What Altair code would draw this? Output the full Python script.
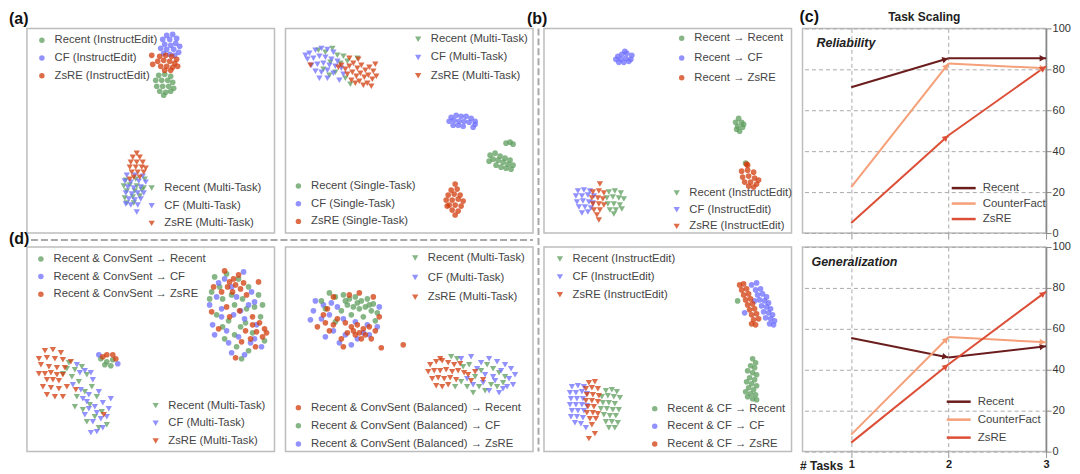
import math
import altair as alt
import pandas as pd

FONT = "Liberation Sans"
GREEN, BLUE, RED = "#5e9e5e", "#6e6eff", "#d23c0c"
LINE_COLORS = ["#6b1d1d", "#f5a078", "#dc4e36"]
PW, PH = 248, 205  # scatter panel size
CW = 244           # task-scaling panel width

# ---------------- (a) left panel: InstructEdit (circles) / Multi-Task (triangles)
A1_IE_RECENT = [(132,47),(138,46),(144,48),(129,52),(135,52),(141,52),(146,54),(130,58),(136,58),
                (142,58),(147,60),(133,63),(139,64),(144,63),(137,67)]
A1_IE_CF = [(140,7),(146,6),(150,10),(136,11),(143,11),(149,15),(153,18),(138,16),(144,17),(134,20),
            (140,21),(147,21),(152,24),(137,25),(143,26),(148,27)]
A1_IE_ZSRE = [(133,28),(139,27),(145,28),(150,31),(131,33),(137,32),(143,33),(148,35),(134,38),(140,38),
              (146,39),(151,38),(138,42),(144,42),(125,27),(126,36)]
A1_MT_RECENT = [(99,152),(109,151),(118,151),(97,158),(103,157),(110,158),(117,160),(100,163),(108,163),
                (115,162),(98,170),(106,169),(113,168),(100,175),(107,175)]
A1_MT_CF = [(100,147),(108,147),(116,148),(98,153),(104,154),(112,153),(119,154),(101,159),(107,160),
            (114,159),(99,165),(105,166),(111,165),(117,165),(102,171),(108,172),(114,171),(104,177),
            (111,177),(110,184),(99,176)]
A1_MT_ZSRE = [(110,125),(106,129),(113,129),(104,134),(110,134),(116,134),(103,139),(109,139),(115,139),
              (119,140),(105,144),(111,144),(117,144),(107,149),(113,149),(103,151)]

# ---------------- (a) right panel: Multi-Task (triangles) / Single-Task (circles)
A2_ST_RECENT = [(221,115),(225,114),(228,116),(205,127),(210,125),(215,128),(220,130),(225,132),(208,131),
                (213,132),(218,134),(223,136),(228,137),(211,137),(216,139),(221,140),(226,141),(204,133)]
A2_ST_CF = [(166,89),(171,87),(176,88),(181,88),(186,90),(190,93),(164,93),(169,92),(174,93),(179,93),
            (184,94),(168,97),(173,97),(178,98),(188,99),(190,96)]
A2_ST_ZSRE = [(170,156),(166,162),(172,161),(163,167),(169,166),(175,167),(161,172),(167,172),(173,171),
              (178,173),(164,177),(170,177),(176,178),(167,182),(173,183),(170,187),(162,178)]
A2_MT_RECENT = [(33,22),(40,24),(47,20),(52,27),(58,28),(45,34),(38,41),(55,35),(62,33),(50,44),(60,50),
                (44,47),(65,56),(72,30)]
A2_MT_CF = [(24,25),(30,22),(36,20),(42,21),(48,24),(22,31),(28,30),(34,28),(40,29),(46,31),(52,33),(26,37),
            (32,36),(38,35),(44,37),(50,38),(56,40),(30,43),(36,44),(42,42),(48,45),(34,50),(42,50),(20,27),
            (58,46),(54,52)]
A2_MT_ZSRE = [(25,37),(53,39),(56,37),(60,41),(64,38),(68,35),(72,40),(76,37),(80,42),(84,39),(88,43),(62,46),
              (67,44),(71,48),(75,45),(79,49),(83,47),(87,51),(91,48),(66,52),(70,55),(74,53),(78,57),(82,55),
              (86,58),(64,30),(90,36),(73,31)]

# ---------------- (b) top panel: Recent -> X (circles) / InstructEdit (triangles)
B1_RECENT = [(195,90),(192,94),(198,94),(194,98),(199,99),(196,103),(193,101),(200,96),(202,135)]
B1_CF = [(74,28),(78,26),(83,25),(88,27),(72,31),(77,31),(82,30),(87,31),(75,34),(80,34),(85,33),(81,23)]
B1_ZSRE = [(204,137),(203,136),(198,143),(204,142),(210,144),(199,149),(205,148),(211,150),(215,152),
           (201,154),(207,154),(213,156),(205,158),(210,159)]
B1_IE_RECENT = [(65,164),(71,163),(77,165),(63,170),(69,169),(75,170),(80,171),(64,176),(70,176),(76,177),
                (66,182),(72,182),(78,181),(70,186)]
B1_IE_CF = [(34,163),(40,162),(46,163),(32,168),(38,168),(44,167),(50,168),(33,174),(39,173),(45,174),
            (49,175),(35,179),(41,179),(47,180),(38,185),(44,184)]
B1_IE_ZSRE = [(56,156),(49,164),(55,163),(60,165),(48,170),(54,170),(59,171),(49,176),(55,176),(60,177),
              (50,182),(56,182),(53,187),(55,192)]

# ---------------- (b) bottom panel: InstructEdit (triangles) / Recent & CF -> X (circles)
B2_RECENT = [(194,54),(209,112),(212,116),(207,119),(211,121),(204,124),(209,126),(213,128),(206,131),
             (211,133),(203,135),(208,137),(213,139),(205,141),(210,143),(202,145),(207,147),(212,148),
             (204,150),(209,152),(213,153)]
B2_CF = [(208,38),(213,36),(212,43),(217,42),(214,48),(219,47),(223,50),(216,53),(221,54),(225,56),(218,59),
         (223,60),(227,62),(220,65),(225,66),(229,68),(222,71),(227,72),(231,74),(226,77),(230,78),(211,54),
         (201,66)]
B2_ZSRE = [(196,38),(200,37),(198,43),(203,42),(200,48),(205,47),(202,53),(207,52),(204,58),(209,57),
           (206,63),(211,62),(208,68),(213,67),(210,73),(215,72),(212,78),(208,77)]
B2_IE_RECENT = [(62,144),(68,143),(73,145),(58,150),(64,149),(70,150),(76,151),(59,156),(65,156),(71,157),
                (57,162),(63,162),(69,163),(75,163),(60,168),(66,169),(72,169),(62,175),(68,175),(74,176),
                (65,181),(71,181)]
B2_IE_CF = [(28,140),(34,139),(40,140),(26,146),(32,146),(38,145),(43,147),(27,152),(33,152),(39,152),
            (26,158),(32,158),(38,158),(43,159),(28,164),(34,164),(40,164),(27,170),(33,170),(39,171),
            (31,176),(37,177),(42,181)]
B2_IE_ZSRE = [(45,136),(51,135),(42,142),(48,141),(54,142),(43,148),(49,148),(55,149),(42,154),(48,154),
              (54,155),(44,160),(50,160),(43,166),(49,166),(54,167),(46,172),(52,172),(48,178),(45,192),
              (51,187)]

# ---------------- (d) left panel: Recent & ConvSent -> X (circles) / Multi-Task (triangles)
D1_RECENT = [(188,30),(200,27),(212,32),(222,40),(232,48),(185,45),(196,52),(208,58),(220,62),(234,70),
             (190,68),(202,74),(214,80),(226,86),(238,94),(198,92),(210,100),(222,104),(193,40),(205,48),
             (216,52),(228,60),(196,80),(208,88),(219,76),(183,52),(236,58),(215,112),
             (74,112),(80,115),(86,113),(78,118),(84,119)]
D1_CF = [(192,36),(205,40),(217,25),(228,55),(183,58),(195,62),(207,68),(218,72),(230,78),(186,78),(200,84),
         (212,90),(224,96),(235,100),(205,106),(218,108),(190,50),(225,45),(198,32),(210,50),(222,58),
         (188,88),(228,92),(214,64),(202,96),(195,70),(91,117),(72,108)]
D1_ZSRE = [(198,24),(203,35),(209,38),(214,42),(206,45),(220,48),(187,40),(195,45),(232,35),(200,60),
           (213,64),(226,70),(233,76),(238,82),(230,85),(236,90),(224,92),(215,95),(192,82),(203,70),
           (229,100),(209,111),(212,28),(185,65),(201,40),(207,32),(217,36),(226,78),(240,86),(219,84),
           (80,108),(86,108),(89,112),(76,110)]
D1_MT_RECENT = [(42,116),(48,123),(55,120),(45,130),(52,135),(60,128),(65,140),(58,145),(50,150),(70,150),
                (63,158),(56,163),(75,165),(68,170),(60,175),(80,178),(72,181),(40,122),(36,127),(48,160)]
D1_MT_CF = [(50,118),(58,124),(46,138),(54,143),(62,148),(66,133),(72,145),(60,155),(68,160),(76,156),
            (82,162),(58,168),(66,175),(74,172),(80,170),(70,185),(64,186),(84,152),(56,152),(62,162),
            (70,166),(76,181),(53,126),(64,126)]
D1_MT_ZSRE = [(18,104),(26,103),(34,106),(12,112),(20,111),(28,112),(36,113),(44,115),(14,118),(22,120),
              (30,121),(38,121),(18,127),(24,126),(30,128),(36,128),(12,127),(20,133),(26,133),(32,134),
              (16,140),(24,141),(32,142),(40,140),(20,148),(28,150),(36,150),(49,143),(77,168)]

# ---------------- (d) right panel: Multi-Task (triangles) / Recent & ConvSent (Balanced) -> X (circles)
D2_RECENT = [(48,50),(42,62),(38,68),(52,72),(60,76),(66,80),(72,78),(78,82),(84,80),(90,84),(62,86),(70,88),
             (76,92),(56,92),(48,78),(44,84),(32,80),(64,48),(74,46),(88,50),(58,100),(96,101),(118,98),
             (40,76),(86,92),(94,70),(68,84),(74,86),(80,88)]
D2_CF = [(44,46),(50,50),(58,48),(64,52),(70,50),(76,54),(82,52),(88,57),(62,58),(68,60),(74,62),(80,60),
         (86,64),(92,66),(56,64),(66,68),(78,70),(40,62),(50,75),(90,74),(36,54),(72,56),(84,58),(60,54)]
D2_ZSRE = [(30,54),(38,58),(46,56),(52,60),(44,68),(58,72),(70,75),(82,78),(92,80),(36,72),(48,84),(60,88),
           (72,92),(84,88),(25,73),(40,90),(54,96),(66,98),(94,60),(28,64),(78,86)]
D2_MT_RECENT = [(166,110),(172,112),(178,120),(184,118),(190,130),(196,124),(202,118),(208,122),(214,126),
                (220,130),(176,135),(182,140),(194,140),(206,138),(200,144),(188,146),(212,140),(218,136),
                (170,140)]
D2_MT_CF = [(176,112),(186,110),(196,116),(204,112),(212,115),(220,118),(226,122),(192,122),(200,128),
            (208,130),(216,124),(224,132),(230,128),(188,138),(198,136),(210,134),(218,142),(228,138),
            (182,132),(204,144),(214,146),(222,140)]
D2_MT_ZSRE = [(145,118),(151,115),(157,114),(163,116),(169,118),(175,117),(143,125),(149,124),(155,124),
              (161,123),(167,125),(173,124),(179,126),(147,132),(153,131),(159,132),(165,131),(171,133),
              (151,139),(157,140),(163,138),(183,128),(190,125),(186,134),(155,112),(198,133)]

# ---------------- (c) task scaling
TASKS = [1, 2, 3]
SERIES = ["Recent", "CounterFact", "ZsRE"]
REL_RECENT = [71.2, 85.4, 85.4]
REL_CF = [22.4, 82.9, 80.5]
REL_ZSRE = [4.9, 47.8, 81.5]
GEN_RECENT = [55.5, 46.0, 51.5]
GEN_CF = [8.3, 56.0, 53.4]
GEN_ZSRE = [4.4, 42.7, 78.2]


def pts_df(groups):
    rows = []
    for label, pts in groups:
        for x, y in pts:
            rows.append({"x": x, "y": y, "label": label})
    return pd.DataFrame(rows)


def legend(lx, ly, rp, sym, size):
    return alt.Legend(title=None, orient="none", legendX=lx, legendY=ly, rowPadding=rp,
                      symbolType=sym, symbolSize=size, symbolOpacity=0.75,
                      labelFontSize=11.3, labelColor="#444", labelFont=FONT, labelOffset=7,
                      labelLimit=300, padding=0)


def scatter(groups, domain, colors, shape, size, leg, w=PW, h=PH):
    return alt.Chart(pts_df(groups)).mark_point(
        shape=shape, filled=True, size=size, opacity=0.75, strokeWidth=0
    ).encode(
        x=alt.X("x:Q", scale=alt.Scale(domain=[0, w], nice=False, zero=False), axis=None),
        y=alt.Y("y:Q", scale=alt.Scale(domain=[0, h], nice=False, zero=False, reverse=True), axis=None),
        color=alt.Color("label:N", scale=alt.Scale(domain=domain, range=colors), legend=leg),
    )


def circles(groups, domain, colors, lx, ly, rp):
    return scatter(groups, domain, colors, "circle", 32, legend(lx, ly, rp, "circle", 30))


def tris(groups, domain, colors, lx, ly, rp):
    return scatter(groups, domain, colors, "triangle-down", 40, legend(lx, ly, rp, "triangle-down", 40))


def label(text, x, y, size=16, weight="bold", style="normal", align="left", baseline="top", color="#111"):
    return alt.Chart(pd.DataFrame({"t": [text]})).mark_text(
        fontSize=size, fontWeight=weight, fontStyle=style, align=align, baseline=baseline,
        color=color, font=FONT
    ).encode(x=alt.value(x), y=alt.value(y), text="t:N")


def dashed_v(x, y0, y1):
    return alt.Chart(pd.DataFrame({"k": [0]})).mark_rule(
        strokeDash=[7, 3], color="#a9a9a9", strokeWidth=2
    ).encode(x=alt.value(x), y=alt.value(y0), y2=alt.value(y1))


def dashed_h(y, x0, x1):
    return alt.Chart(pd.DataFrame({"k": [0]})).mark_rule(
        strokeDash=[7, 3], color="#a9a9a9", strokeWidth=2
    ).encode(y=alt.value(y), x=alt.value(x0), x2=alt.value(x1))


def panel(*layers, w=PW, h=PH):
    return alt.layer(*layers).resolve_scale(color="independent").properties(width=w, height=h)


IE = ["Recent (InstructEdit)", "CF (InstructEdit)", "ZsRE (InstructEdit)"]
MT = ["Recent (Multi-Task)", "CF (Multi-Task)", "ZsRE (Multi-Task)"]
ST = ["Recent (Single-Task)", "CF (Single-Task)", "ZsRE (Single-Task)"]
RX = ["Recent \u2192 Recent", "Recent \u2192 CF", "Recent \u2192 ZsRE"]
RCF = ["Recent & CF \u2192 Recent", "Recent & CF \u2192 CF", "Recent & CF \u2192 ZsRE"]
RCS = ["Recent & ConvSent \u2192 Recent", "Recent & ConvSent \u2192 CF", "Recent & ConvSent \u2192 ZsRE"]
RCSB = ["Recent & ConvSent (Balanced) \u2192 Recent", "Recent & ConvSent (Balanced) \u2192 CF",
        "Recent & ConvSent (Balanced) \u2192 ZsRE"]
GBR = [GREEN, BLUE, RED]
TOP = -17
SPACE_COL, SPACE_ROW = 11, 14

a1 = panel(
    circles(list(zip(IE, [A1_IE_RECENT, A1_IE_CF, A1_IE_ZSRE])), IE, GBR, 9.3, 6.3, 5.7),
    tris(list(zip(MT, [A1_MT_RECENT, A1_MT_CF, A1_MT_ZSRE])), MT, GBR, 119.3, 154.3, 5.7),
    label("(a)", -18, TOP),
)
a2 = panel(
    circles(list(zip(ST, [A2_ST_RECENT, A2_ST_CF, A2_ST_ZSRE])), ST, GBR, 7.3, 152.3, 5.7),
    tris(list(zip(MT, [A2_MT_RECENT, A2_MT_CF, A2_MT_ZSRE])), MT, GBR, 127.3, 5.3, 6.2),
    dashed_v(253.5, 0, 424),
    dashed_h(212, -255, 248),
)
b1 = panel(
    circles(list(zip(RX, [B1_RECENT, B1_CF, B1_ZSRE])), RX, GBR, 132.3, 4.3, 7.7),
    tris(list(zip(IE, [B1_IE_RECENT, B1_IE_CF, B1_IE_ZSRE])), IE, GBR, 127.3, 159.3, 4.7),
    label("(b)", -17, TOP),
)
d1 = panel(
    circles(list(zip(RCS, [D1_RECENT, D1_CF, D1_ZSRE])), RCS, GBR, 8.3, 6.3, 5.7),
    tris(list(zip(MT, [D1_MT_RECENT, D1_MT_CF, D1_MT_ZSRE])), MT, GBR, 123.3, 153.3, 5.7),
    label("(d)", -18, -16),
)
d2 = panel(
    circles([(RCSB[2], D2_ZSRE), (RCSB[1], D2_CF), (RCSB[0], D2_RECENT)], RCSB, [RED, GREEN, BLUE],
            7.3, 155.3, 6.2),
    tris(list(zip(MT, [D2_MT_RECENT, D2_MT_CF, D2_MT_ZSRE])), MT, GBR, 124.3, 5.3, 7.7),
)
b2 = panel(
    circles(list(zip(RCF, [B2_RECENT, B2_CF, B2_ZSRE])), RCF, GBR, 105.3, 156.3, 5.7),
    tris(list(zip(IE, [B2_IE_RECENT, B2_IE_CF, B2_IE_ZSRE])), IE, GBR, 10.3, 6.3, 6.0),
)


def line_panel(values, title, tx, lx, ly, rp, bottom):
    px = CW / 2.5
    py = PH / 100.0
    seg_rows, arr_rows = [], []
    for name, vals in zip(SERIES, values):
        for i in range(len(TASKS) - 1):
            x1, x2, y1, y2 = TASKS[i], TASKS[i + 1], vals[i], vals[i + 1]
            seg_rows.append({"series": name, "x": x1, "x2": x2, "y": y1, "y2": y2})
            th = math.atan2(-(y2 - y1) * py, (x2 - x1) * px)
            arr_rows.append({"series": name,
                             "x": x2 - 3.5 * math.cos(th) / px,
                             "y": y2 + 3.5 * math.sin(th) / py,
                             "angle": math.degrees(th) % 360})
    cscale = alt.Scale(domain=SERIES, range=LINE_COLORS)
    if bottom:
        xaxis = alt.Axis(values=TASKS, grid=True, gridDash=[4, 3], gridColor="#aaa", domain=False,
                         tickColor="#999", tickSize=6, labelFlush=False, labelFontWeight="bold",
                         labelFontSize=11, labelColor="#222", labelPadding=1,
                         title="# Tasks", titleX=-3, titleY=18, titleAlign="left", titleAngle=0,
                         titleFontWeight="bold", titleFontSize=12, titleColor="#222",
                         titleBaseline="alphabetic")
    else:
        xaxis = alt.Axis(values=TASKS, grid=True, gridDash=[4, 3], gridColor="#aaa", domain=False,
                         tickColor="#999", tickSize=6, labels=False, title=None)
    yaxis = alt.Axis(orient="right", values=[0, 20, 40, 60, 80, 100], grid=True, gridDash=[4, 3],
                     gridColor="#aaa", domainColor="#888", domainWidth=1.5, tickColor="#888",
                     tickSize=5, labelColor="#333", labelFontSize=11, labelFlush=False,
                     labelPadding=1, title=None)
    X = alt.X("x:Q", scale=alt.Scale(domain=[0.5, 3], nice=False, zero=False), axis=xaxis)
    Y = alt.Y("y:Q", scale=alt.Scale(domain=[0, 100], nice=False, zero=False), axis=yaxis)
    leg = alt.Legend(title=None, orient="none", legendX=lx, legendY=ly, rowPadding=rp,
                     symbolType="M-2,0L2,0", symbolSize=144, symbolStrokeWidth=2.5,
                     labelFontSize=11.5, labelColor="#444", labelFont=FONT, labelOffset=11.5, padding=0)
    segs = alt.Chart(pd.DataFrame(seg_rows)).mark_rule(strokeWidth=2).encode(
        x=X, x2="x2:Q", y=Y, y2="y2:Q", color=alt.Color("series:N", scale=cscale, legend=leg))
    arrows = alt.Chart(pd.DataFrame(arr_rows)).mark_point(
        shape="triangle-right", filled=True, size=45, opacity=1, strokeWidth=0
    ).encode(x=X, y=Y, angle=alt.Angle("angle:Q", scale=None),
             color=alt.Color("series:N", scale=cscale, legend=None))
    return alt.layer(segs, arrows, label(title, tx, 15, size=12.5, style="italic", baseline="middle",
                                         color="#222"))


c1 = alt.layer(
    line_panel([REL_RECENT, REL_CF, REL_ZSRE], "Reliability", 14, 154, 152.5, 2.5, False),
    label("(c)", -3, TOP - 2),
    label("Task Scaling", 122, -11, size=12, align="center", baseline="middle", color="#222"),
).properties(width=CW, height=PH)
c2 = alt.layer(
    line_panel([GEN_RECENT, GEN_CF, GEN_ZSRE], "Generalization", 9, 149, 147.5, 5, True),
).properties(width=CW, height=PH)

chart = alt.concat(
    a1, a2, b1, c1, d1, d2, b2, c2,
    columns=4, spacing={"row": SPACE_ROW, "column": SPACE_COL}, bounds="flush", align="each",
).resolve_scale(color="independent").configure(font=FONT).configure_view(
    stroke="#bdbdbd", strokeWidth=1.5
).properties(padding=0)

chart.save("out.html", embed_options={"renderer": "svg", "actions": False})
